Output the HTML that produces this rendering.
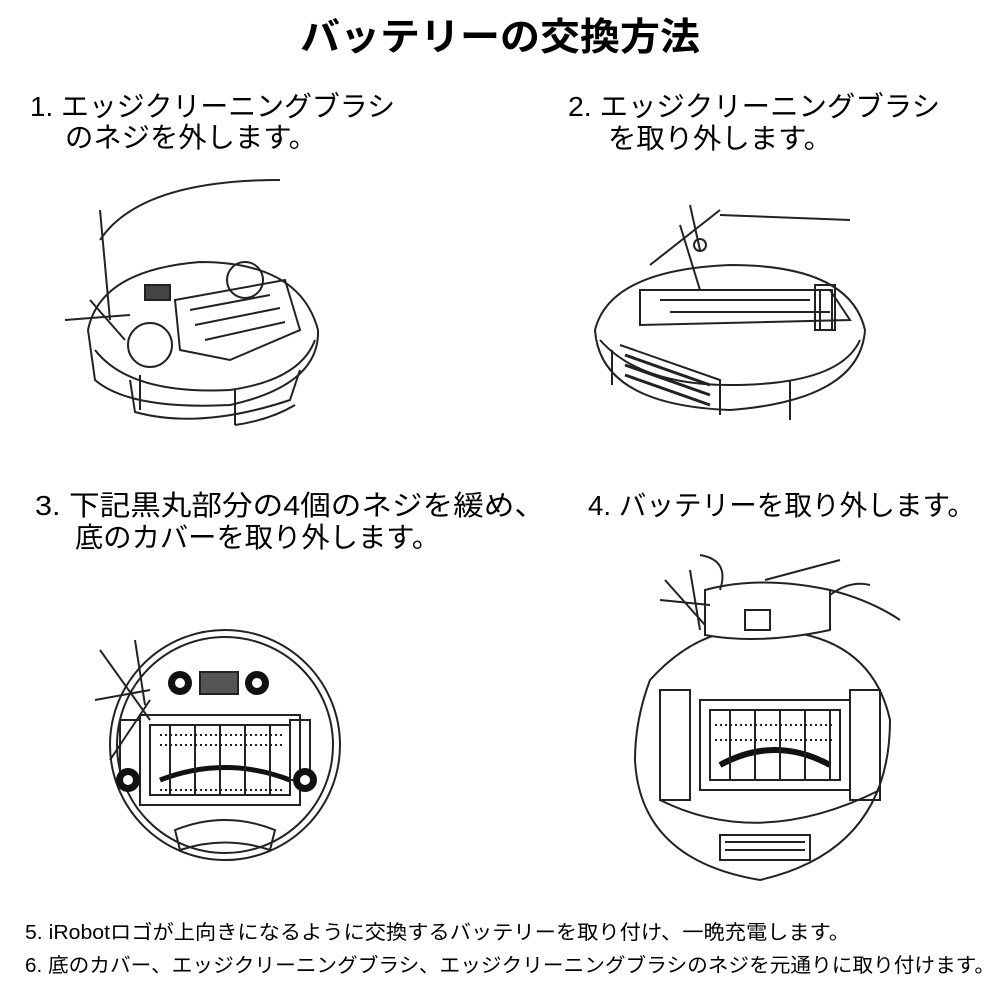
<!DOCTYPE html>
<html><head><meta charset="utf-8"><style>
html,body{margin:0;padding:0;background:#fff;width:1000px;height:1000px;overflow:hidden}
svg{display:block}
text{font-family:"Liberation Sans","Noto Sans CJK JP",sans-serif;fill:#000}
</style></head><body>
<svg width="1000" height="1000" viewBox="0 0 1000 1000">
<text x="300" y="50" font-size="38" font-weight="bold" textLength="400" lengthAdjust="spacingAndGlyphs">バッテリーの交換方法</text>
<text x="30" y="116" font-size="28" textLength="365" lengthAdjust="spacingAndGlyphs">1. エッジクリーニングブラシ</text>
<text x="65" y="147" font-size="28" textLength="252" lengthAdjust="spacingAndGlyphs">のネジを外します。</text>
<text x="568" y="116" font-size="28" textLength="372" lengthAdjust="spacingAndGlyphs">2. エッジクリーニングブラシ</text>
<text x="608" y="148" font-size="28" textLength="224" lengthAdjust="spacingAndGlyphs">を取り外します。</text>
<text x="35" y="515" font-size="28" textLength="510" lengthAdjust="spacingAndGlyphs">3. 下記黒丸部分の4個のネジを緩め、</text>
<text x="75" y="547" font-size="28" textLength="365" lengthAdjust="spacingAndGlyphs">底のカバーを取り外します。</text>
<text x="588" y="515" font-size="28" textLength="387" lengthAdjust="spacingAndGlyphs">4. バッテリーを取り外します。</text>
<text x="25" y="939" font-size="20" textLength="825" lengthAdjust="spacingAndGlyphs">5. iRobotロゴが上向きになるように交換するバッテリーを取り付け、一晩充電します。</text>
<text x="25" y="972" font-size="20" textLength="970" lengthAdjust="spacingAndGlyphs">6. 底のカバー、エッジクリーニングブラシ、エッジクリーニングブラシのネジを元通りに取り付けます。</text>

<g fill="none" stroke="#222" stroke-width="2">
<!-- robot 1 -->
<path d="M88 330 Q100 270 200 262 Q300 262 318 330 Q320 385 230 405 Q130 410 95 380 Z"/>
<path d="M95 350 Q130 395 230 390 Q300 380 315 340"/>
<path d="M130 380 L135 412 Q200 430 290 400 L300 370"/>
<path d="M140 375 L140 410 M235 390 L235 425 M235 425 Q270 420 295 405"/>
<path d="M175 300 L285 280 L300 330 L230 360 L180 350 Z"/>
<path d="M190 310 L270 295 M195 325 L280 308 M205 340 L285 322"/>
<circle cx="150" cy="345" r="22"/><circle cx="245" cy="280" r="18"/>
<path d="M100 210 L110 320 M100 240 Q140 180 280 180"/>
<path d="M65 320 L130 315 M90 300 L125 340"/>
<rect x="145" y="285" width="25" height="15" fill="#444"/>
<!-- robot 2 -->
<path d="M595 330 Q610 270 730 265 Q850 265 865 330 Q860 400 730 410 Q600 405 595 330 Z"/>
<path d="M600 340 Q640 385 730 385 Q840 385 860 340"/>
<path d="M612 350 L612 385 M790 380 L790 420"/>
<path d="M620 345 L720 380 L720 415"/>
<path d="M625 355 L710 385 M625 365 L710 395 M625 375 L710 405" stroke-width="3"/>
<path d="M640 290 L830 290 L850 320 L640 325 Z"/>
<path d="M660 300 L810 300 M670 312 L830 312"/>
<rect x="815" y="285" width="20" height="45"/>
<rect x="820" y="290" width="12" height="40"/>
<path d="M650 265 L720 210 M680 225 L700 290 M690 205 L700 250 M720 215 L850 220"/>
<circle cx="700" cy="245" r="6"/>
<!-- robot 3 -->
<circle cx="225" cy="745" r="115"/>
<circle cx="225" cy="745" r="108"/>
<rect x="140" y="715" width="160" height="90"/>
<rect x="150" y="725" width="140" height="70"/>
<path d="M160 780 Q225 755 290 780" stroke-width="5" stroke="#111"/>
<path d="M170 725 L170 795 M195 725 L195 795 M220 725 L220 795 M245 725 L245 795 M270 725 L270 795"/>
<path d="M160 735 L285 735 M160 745 L285 745 M160 790 L285 790" stroke-dasharray="2 3"/>
<rect x="200" y="672" width="38" height="22" fill="#555"/>
<rect x="120" y="720" width="20" height="60"/><rect x="290" y="720" width="20" height="60"/>
<path d="M175 830 Q225 810 275 830 L270 850 Q225 835 180 850 Z"/>
<path d="M100 650 L150 720 M95 700 L150 690 M110 760 L150 700 M135 640 L145 705"/>
</g>
<g fill="#111">
<circle cx="180" cy="683" r="12"/><circle cx="257" cy="683" r="12"/>
<circle cx="128" cy="780" r="12"/><circle cx="305" cy="780" r="12"/>
</g>
<g fill="#fff"><circle cx="180" cy="683" r="5"/><circle cx="257" cy="683" r="5"/><circle cx="128" cy="780" r="5"/><circle cx="305" cy="780" r="5"/></g>
<g fill="none" stroke="#222" stroke-width="2">
<!-- robot 4 -->
<path d="M650 680 Q700 625 760 630 Q870 630 890 720 Q890 850 760 880 Q640 860 635 760 Q635 720 650 680 Z"/>
<path d="M660 800 Q760 850 880 790"/>
<rect x="700" y="700" width="150" height="90"/>
<rect x="710" y="710" width="130" height="70"/>
<path d="M720 765 Q775 735 830 765" stroke-width="6" stroke="#111"/>
<path d="M730 710 L730 780 M755 710 L755 780 M780 710 L780 780 M805 710 L805 780 M830 710 L830 780"/>
<path d="M715 725 L835 725 M715 740 L835 740" stroke-dasharray="2 3"/>
<rect x="660" y="690" width="30" height="110"/><rect x="850" y="690" width="30" height="110"/>
<rect x="720" y="835" width="90" height="25"/>
<path d="M725 842 L805 842 M725 850 L805 850"/>
<path d="M705 590 Q760 575 830 590 L830 630 Q760 645 705 635 Z" fill="#fff"/>
<rect x="745" y="610" width="25" height="20"/>
<path d="M660 600 L710 605 M690 570 L700 630 M665 580 L705 625"/>
<path d="M700 555 Q730 560 720 590 M830 590 Q870 600 900 620 M830 595 Q850 580 870 585 M765 580 L840 560"/>
</g>
</svg>
</body></html>
